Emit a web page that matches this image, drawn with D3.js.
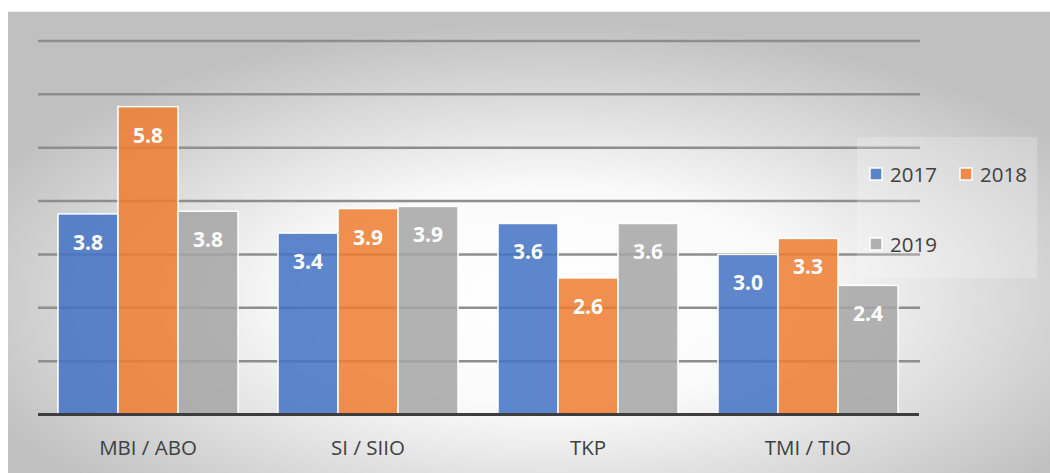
<!DOCTYPE html>
<html>
<head>
<meta charset="utf-8">
<script src="https://cdn.jsdelivr.net/npm/d3@7/dist/d3.min.js"></script>
<style>
  html, body { margin: 0; padding: 0; background: #ffffff; }
  svg { display: block; }
</style>
</head>
<body>
<svg id="chart" width="1050" height="473"></svg>
<script>
const categories = ["MBI / ABO", "SI / SIIO", "TKP", "TMI / TIO"];
const seriesNames = ["2017", "2018", "2019"];
const values2017 = [3.76, 3.40, 3.58, 3.00];
const values2018 = [5.77, 3.86, 2.56, 3.30];
const values2019 = [3.81, 3.90, 3.58, 2.42];
const gridTicks = [1, 2, 3, 4, 5, 6, 7];
const colors = ["#4472C4", "#ED7D31", "#A5A5A5"];

const seriesValues = [values2017, values2018, values2019];
const svg = d3.select("#chart");
const W = 1050, H = 473;

const defs = svg.append("defs");
const rg = defs.append("radialGradient").attr("id", "bg")
  .attr("cx", "0.52").attr("cy", "0.62").attr("r", "0.6");
rg.append("stop").attr("offset", "0").attr("stop-color", "#ffffff");
rg.append("stop").attr("offset", "0.4").attr("stop-color", "#fafafa");
rg.append("stop").attr("offset", "1").attr("stop-color", "#c0c0c0");
defs.append("filter").attr("id", "blur").append("feGaussianBlur").attr("stdDeviation", 1.6);

// panel
svg.append("rect").attr("x", 8).attr("y", 12).attr("width", W - 8).attr("height", H - 12)
  .attr("fill", "url(#bg)");
svg.append("line").attr("x1", 8).attr("x2", W).attr("y1", 12.5).attr("y2", 12.5)
  .attr("stroke", "#bdbdbd").attr("stroke-width", 1.5);

const x0 = 38, x1 = 918;
const x = d3.scaleBand().domain(categories).range([x0, x1]).paddingInner(0).paddingOuter(0);
const xs = d3.scaleBand().domain(seriesNames).range([0, x.bandwidth()])
  .paddingInner(0).paddingOuter(1 / 3);
const y = d3.scaleLinear().domain([0, 7]).range([414.5, 41]);

// gridlines
const grid = svg.append("g");
grid.selectAll("line.sh").data(gridTicks).join("line").attr("class", "sh")
  .attr("x1", x0).attr("x2", x1 + 2)
  .attr("y1", d => y(d) + 2.5).attr("y2", d => y(d) + 2.5)
  .attr("stroke", "#d0d0d0").attr("stroke-width", 3).attr("filter", "url(#blur)");
grid.selectAll("line.g").data(gridTicks).join("line").attr("class", "g")
  .attr("x1", x0).attr("x2", x1 + 2)
  .attr("y1", d => y(d)).attr("y2", d => y(d))
  .attr("stroke", "#8e8e8e").attr("stroke-width", 2.5);

// bars
const groups = svg.append("g").selectAll("g").data(categories).join("g")
  .attr("transform", d => `translate(${x(d)},0)`);
groups.selectAll("rect")
  .data((c, i) => seriesNames.map((s, k) => ({ s, k, v: seriesValues[k][i] })))
  .join("rect")
  .attr("x", d => xs(d.s))
  .attr("width", xs.bandwidth())
  .attr("y", d => y(d.v))
  .attr("height", d => y(0) - y(d.v))
  .attr("fill", d => colors[d.k])
  .attr("fill-opacity", 0.86)
  .attr("stroke", "#ffffff").attr("stroke-width", 1.5);

const fmt = d3.format(".1f");
groups.selectAll("text")
  .data((c, i) => seriesNames.map((s, k) => ({ s, k, v: seriesValues[k][i] })))
  .join("text")
  .attr("x", d => xs(d.s) + xs.bandwidth() / 2)
  .attr("y", d => y(d.v) + 36)
  .attr("text-anchor", "middle")
  .attr("font-family", "'Open Sans', sans-serif")
  .attr("font-weight", "bold")
  .attr("font-size", 21)
  .attr("fill", "#ffffff")
  .text(d => fmt(d.v));

// x axis
const xAxis = svg.append("g").attr("transform", `translate(0,${y(0)})`)
  .call(d3.axisBottom(x).tickSize(0).tickPadding(26));
xAxis.select(".domain").attr("stroke", "#3d3d3d").attr("stroke-width", 3)
  .attr("d", `M${x0},0H${x1 + 1}`);
xAxis.selectAll("text")
  .attr("font-family", "'Open Sans', sans-serif")
  .attr("font-size", 20.5)
  .attr("fill", "#404040");

// legend
svg.append("rect").attr("x", 857).attr("y", 137).attr("width", 180).attr("height", 141)
  .attr("fill", "#ffffff").attr("fill-opacity", 0.22);
const legendPos = [
  { sx: 869, sy: 167, tx: 890, ty: 182 },
  { sx: 959, sy: 167, tx: 980, ty: 182 },
  { sx: 869, sy: 237, tx: 890, ty: 252 }
];
const lg = svg.append("g").selectAll("g").data(seriesNames).join("g");
lg.append("rect")
  .attr("x", (d, i) => legendPos[i].sx + 1)
  .attr("y", (d, i) => legendPos[i].sy + 1)
  .attr("width", 12).attr("height", 12)
  .attr("fill", (d, i) => colors[i]).attr("fill-opacity", 0.86)
  .attr("stroke", "#ffffff").attr("stroke-width", 1.5);
lg.append("text")
  .attr("x", (d, i) => legendPos[i].tx)
  .attr("y", (d, i) => legendPos[i].ty)
  .attr("font-family", "'Open Sans', sans-serif")
  .attr("font-size", 20.5)
  .attr("fill", "#404040")
  .text(d => d);
</script>
</body>
</html>
